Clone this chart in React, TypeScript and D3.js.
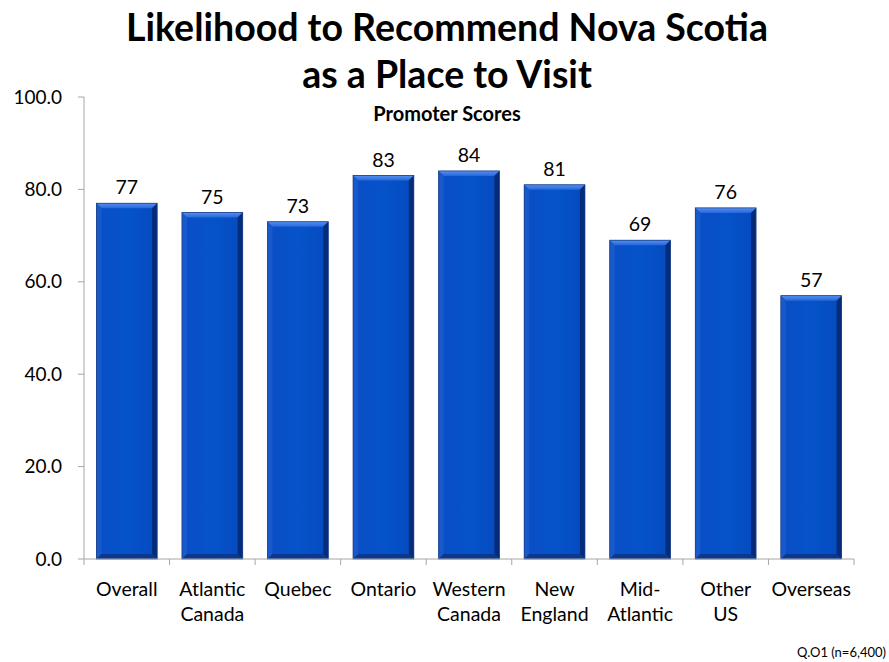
import React from "react";
import * as d3 from "d3";

const categories: string[][] = [
  ["Overall"],
  ["Atlantic", "Canada"],
  ["Quebec"],
  ["Ontario"],
  ["Western", "Canada"],
  ["New", "England"],
  ["Mid-", "Atlantic"],
  ["Other", "US"],
  ["Overseas"],
];
const values: number[] = [77, 75, 73, 83, 84, 81, 69, 76, 57];
const yTicks: number[] = [0, 20, 40, 60, 80, 100];
const titleLines: string[] = ["Likelihood to Recommend Nova Scotia", "as a Place to Visit"];
const subtitle = "Promoter Scores";
const footnote = "Q.O1 (n=6,400)";

const W = 889;
const H = 662;
const FONT = "Lato, 'Open Sans', sans-serif";

export default function App() {
  const keys = categories.map((c) => c.join(" "));
  const x = d3.scaleBand<string>().domain(keys).range([84, 854]).paddingInner(0.29).paddingOuter(0.145);
  const y = d3.scaleLinear().domain([0, 100]).range([559, 97]);
  const step = x.step();
  const left = 84;
  const bw = x.bandwidth();
  const bev = 5;

  return (
    <svg width={W} height={H} style={{ position: "absolute", left: 0, top: 0, background: "#fff" }}>
      <defs>
        <linearGradient id="topBev" x1="0" y1="0" x2="0" y2="1">
          <stop offset="0" stopColor="#5592f2" />
          <stop offset="1" stopColor="#2666da" />
        </linearGradient>
        <linearGradient id="body" x1="0" y1="0" x2="1" y2="0">
          <stop offset="0" stopColor="#0a4ec4" />
          <stop offset="0.5" stopColor="#0553ca" />
          <stop offset="1" stopColor="#054abe" />
        </linearGradient>
      </defs>
      {/* titles */}
      <text x={447} y={41} textAnchor="middle" fontFamily={FONT} fontWeight="bold" fontSize={37.5} fill="#000">
        {titleLines[0]}
      </text>
      <text x={447} y={88} textAnchor="middle" fontFamily={FONT} fontWeight="bold" fontSize={37.5} fill="#000">
        {titleLines[1]}
      </text>
      <text x={447} y={121} textAnchor="middle" fontFamily={FONT} fontWeight="bold" fontSize={20} fill="#000">
        {subtitle}
      </text>

      {/* y axis */}
      <line x1={left} x2={left} y1={y(100)} y2={y(0)} stroke="#a6a6a6" strokeWidth={1} />
      {yTicks.map((t) => (
        <g key={t}>
          <line x1={left - 6} x2={left} y1={y(t)} y2={y(t)} stroke="#a6a6a6" />
          <text x={62} y={y(t) + 6.5} textAnchor="end" fontFamily={FONT} fontSize={19} fill="#000">
            {t.toFixed(1)}
          </text>
        </g>
      ))}

      {/* bars */}
      {values.map((v, i) => {
        const x0 = x(keys[i])!;
        const x1 = x0 + bw;
        const y0 = y(v);
        const y1 = y(0);
        return (
          <g key={i}>
            <rect x={x0} y={y0} width={bw} height={y1 - y0} fill="url(#body)" />
            {/* top bevel */}
            <polygon points={`${x0},${y0} ${x1},${y0} ${x1 - bev},${y0 + bev} ${x0 + bev},${y0 + bev}`} fill="url(#topBev)" />
            {/* left bevel */}
            <polygon points={`${x0},${y0} ${x0 + bev},${y0 + bev} ${x0 + bev},${y1 - bev} ${x0},${y1}`} fill="#1859cc" />
            {/* right bevel */}
            <polygon points={`${x1},${y0} ${x1},${y1} ${x1 - bev},${y1 - bev} ${x1 - bev},${y0 + bev}`} fill="#052c78" />
            {/* bottom bevel */}
            <polygon points={`${x0},${y1} ${x0 + bev},${y1 - bev} ${x1 - bev},${y1 - bev} ${x1},${y1}`} fill="#0a3890" />
            <rect x={x0} y={y0} width={bw} height={y1 - y0} fill="none" stroke="#1a3f86" strokeWidth={0.8} />
            <text x={x0 + bw / 2} y={y0 - 9} textAnchor="middle" fontFamily={FONT} fontSize={19.5} fill="#000">
              {v}
            </text>
          </g>
        );
      })}

      {/* x axis */}
      <line x1={left} x2={left + step * categories.length} y1={y(0)} y2={y(0)} stroke="#a6a6a6" />
      {d3.range(categories.length + 1).map((i) => (
        <line key={i} x1={left + i * step} x2={left + i * step} y1={y(0)} y2={y(0) + 6} stroke="#a6a6a6" />
      ))}
      {categories.map((c, i) => (
        <text key={i} textAnchor="middle" fontFamily={FONT} fontSize={19.5} fill="#000">
          {c.map((line, j) => (
            <tspan key={j} x={x(keys[i])! + bw / 2} y={596 + j * 25}>
              {line}
            </tspan>
          ))}
        </text>
      ))}

      <text x={886} y={657} textAnchor="end" fontFamily={FONT} fontSize={13} fill="#000">
        {footnote}
      </text>
    </svg>
  );
}
